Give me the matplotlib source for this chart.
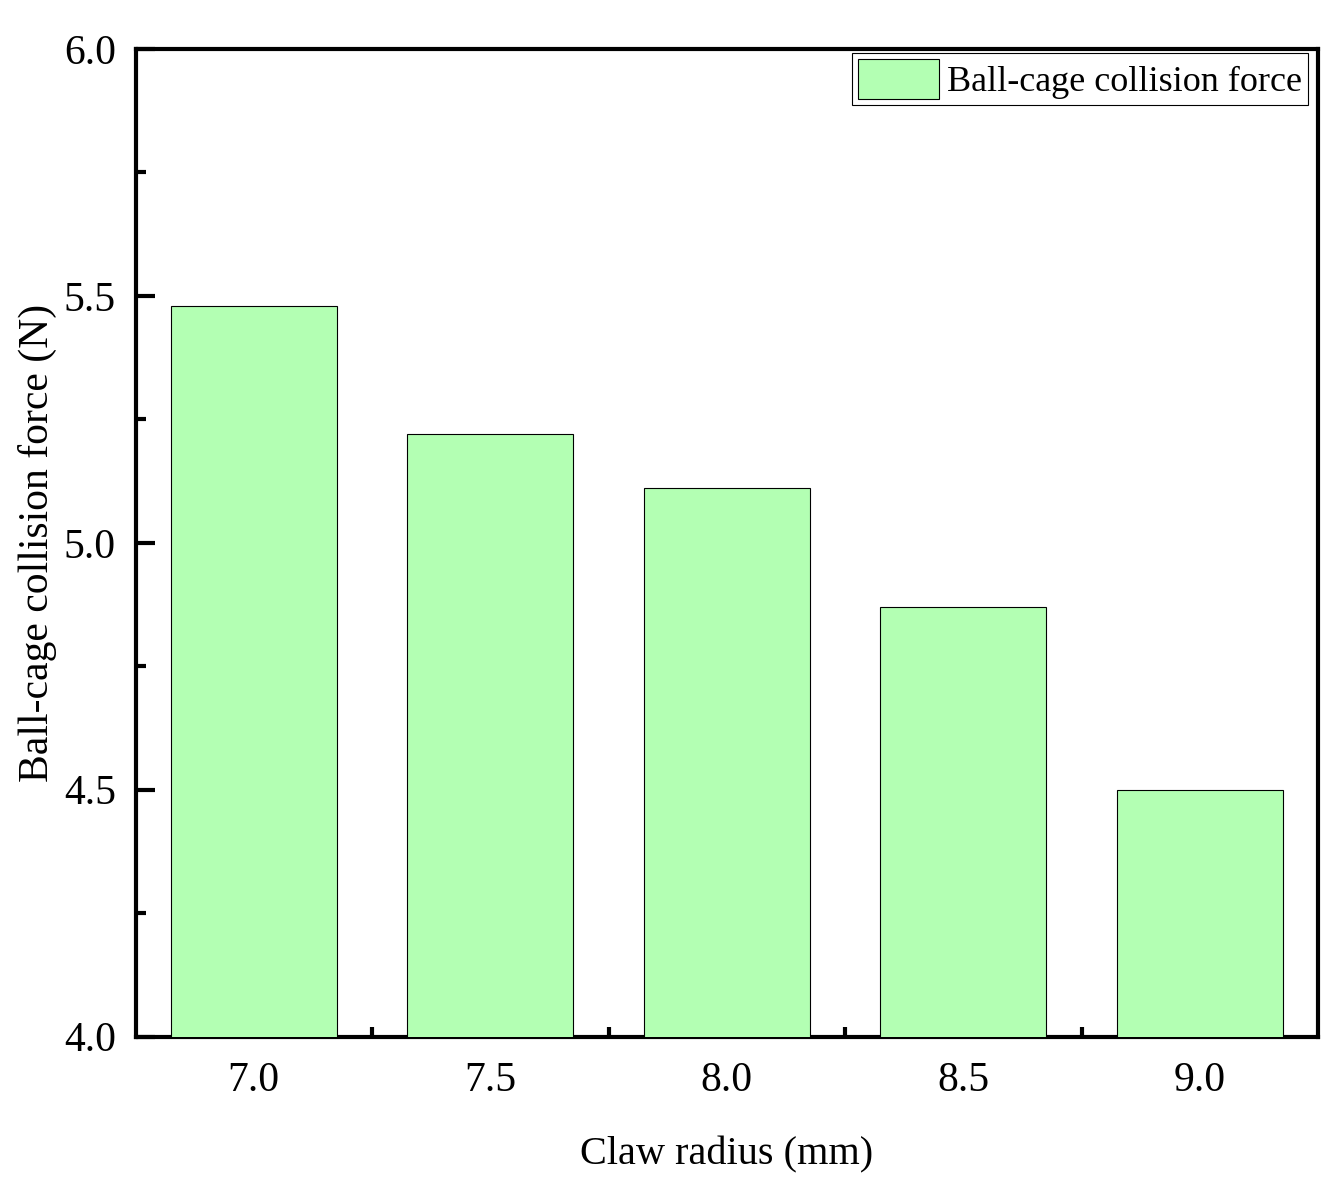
import numpy as np
import matplotlib.pyplot as plt
from matplotlib.ticker import MultipleLocator, FixedLocator

radius = ["7.0", "7.5", "8.0", "8.5", "9.0"]
force = [5.48, 5.22, 5.11, 4.87, 4.50]

plt.rcParams['font.family'] = ['Liberation Serif', 'DejaVu Serif']

W, H = 1343, 1186
fig = plt.figure(figsize=(W / 100, H / 100), dpi=100)
# axes box in pixels: left 135.5, right 1318, top 49, bottom 1036.5
ax = fig.add_axes([135.5 / W, 1 - 1036.5 / H, (1318 - 135.5) / W, (1036.5 - 49) / H])

x = np.arange(len(radius))
ax.bar(x, force, width=0.7, color='#b3ffb3', edgecolor='black', linewidth=0.8,
       label="Ball-cage collision force", zorder=3)

ax.set_xlim(-0.5, 4.5)
ax.set_ylim(4.0, 6.0)
ax.set_xticks(x)
ax.set_xticklabels(radius)
ax.xaxis.set_minor_locator(FixedLocator(x[:-1] + 0.5))
ax.yaxis.set_major_locator(MultipleLocator(0.5))
ax.yaxis.set_minor_locator(MultipleLocator(0.25))
ax.yaxis.set_major_formatter(plt.FormatStrFormatter('%.1f'))

ax.tick_params(axis='both', which='major', direction='in', length=14, width=3,
               labelsize=30, pad=14)
ax.tick_params(axis='both', which='minor', direction='in', length=7, width=3)
ax.tick_params(axis='x', which='major', pad=18)
for s in ax.spines.values():
    s.set_linewidth(3)

ax.set_xlabel("Claw radius (mm)", fontsize=29, labelpad=26)
ax.set_ylabel("Ball-cage collision force (N)", fontsize=30, labelpad=5)

leg = ax.legend(loc='upper right', bbox_to_anchor=(1308 / W, 1 - 53 / H),
                bbox_transform=fig.transFigure, borderaxespad=0,
                fontsize=26, fancybox=False, framealpha=1, edgecolor='black',
                handlelength=2.24, handleheight=1.3, handletextpad=0.22,
                borderpad=0.17)
leg.get_frame().set_linewidth(0.8)

fig.savefig("out.png", dpi=100)
